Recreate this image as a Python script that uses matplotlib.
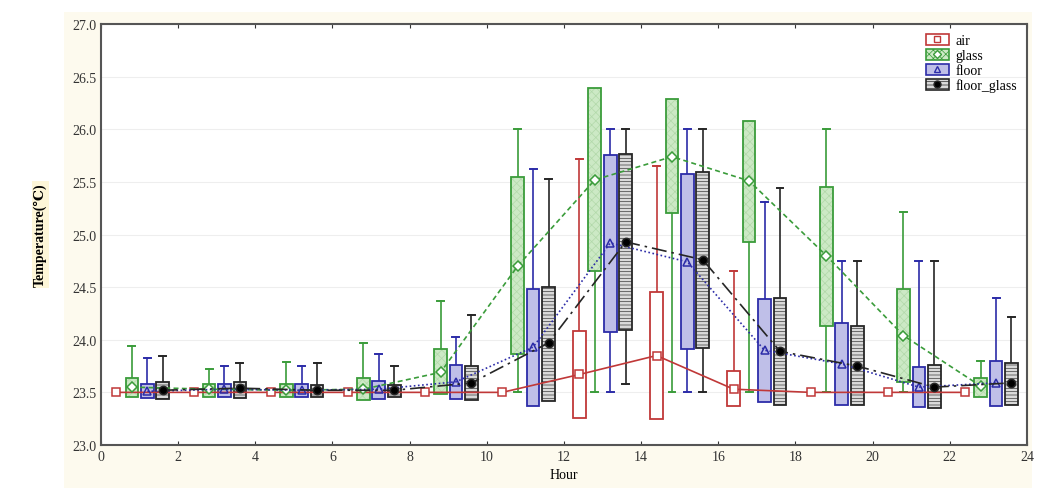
import matplotlib
matplotlib.use('Agg')
import matplotlib.pyplot as plt
from matplotlib.patches import Rectangle
from matplotlib.lines import Line2D

plt.rcParams['font.family'] = ['Liberation Serif', 'DejaVu Serif']
plt.rcParams['hatch.linewidth'] = 0.5

# group start hours, each group holds 4 boxes
groups = [0, 2, 4, 6, 8, 10, 12, 14, 16, 18, 20, 22]
series = ['air', 'glass', 'floor', 'floor_glass']
offsets = [0.4, 0.8, 1.2, 1.6]

# whisker low, box low, box high, whisker high, mean
air_wlo = [23.5, 23.5, 23.5, 23.5, 23.5, 23.5, 23.26, 23.25, 23.37, 23.5, 23.5, 23.5]
air_blo = [23.5, 23.5, 23.5, 23.5, 23.5, 23.5, 23.26, 23.25, 23.37, 23.5, 23.5, 23.5]
air_bhi = [23.5, 23.5, 23.5, 23.5, 23.5, 23.5, 24.08, 24.45, 23.70, 23.5, 23.5, 23.5]
air_whi = [23.5, 23.5, 23.5, 23.5, 23.5, 23.5, 25.72, 25.65, 24.65, 23.5, 23.5, 23.5]
air_mean = [23.5, 23.5, 23.5, 23.5, 23.5, 23.5, 23.67, 23.85, 23.53, 23.5, 23.5, 23.5]

glass_wlo = [23.46, 23.46, 23.46, 23.43, 23.48, 23.5, 23.5, 23.5, 23.5, 23.5, 23.5, 23.46]
glass_blo = [23.46, 23.46, 23.46, 23.43, 23.48, 23.86, 24.65, 25.20, 24.93, 24.13, 23.60, 23.46]
glass_bhi = [23.64, 23.58, 23.58, 23.64, 23.91, 25.55, 26.39, 26.29, 26.08, 25.45, 24.48, 23.64]
glass_whi = [23.94, 23.72, 23.79, 23.97, 24.37, 26.0, 26.39, 26.29, 26.08, 26.0, 25.21, 23.80]
glass_mean = [23.55, 23.53, 23.52, 23.53, 23.69, 24.70, 25.52, 25.74, 25.51, 24.80, 24.04, 23.56]

floor_wlo = [23.45, 23.46, 23.46, 23.44, 23.44, 23.37, 23.5, 23.5, 23.41, 23.38, 23.36, 23.37]
floor_blo = [23.45, 23.46, 23.46, 23.44, 23.44, 23.37, 24.07, 23.91, 23.41, 23.38, 23.36, 23.37]
floor_bhi = [23.58, 23.58, 23.58, 23.61, 23.76, 24.48, 25.76, 25.58, 24.39, 24.16, 23.74, 23.80]
floor_whi = [23.83, 23.75, 23.75, 23.86, 24.03, 25.62, 26.0, 26.0, 25.31, 24.75, 24.75, 24.40]
floor_mean = [23.51, 23.53, 23.52, 23.53, 23.60, 23.93, 24.92, 24.74, 23.90, 23.77, 23.55, 23.59]

fg_wlo = [23.44, 23.45, 23.46, 23.46, 23.43, 23.42, 23.58, 23.5, 23.38, 23.38, 23.35, 23.38]
fg_blo = [23.44, 23.45, 23.46, 23.46, 23.43, 23.42, 24.09, 23.92, 23.38, 23.38, 23.35, 23.38]
fg_bhi = [23.60, 23.60, 23.57, 23.57, 23.75, 24.50, 25.77, 25.59, 24.40, 24.13, 23.76, 23.78]
fg_whi = [23.85, 23.78, 23.78, 23.75, 24.24, 25.53, 26.0, 26.0, 25.44, 24.75, 24.75, 24.22]
fg_mean = [23.52, 23.54, 23.52, 23.52, 23.59, 23.97, 24.93, 24.76, 23.89, 23.75, 23.55, 23.59]

data = {
    'air': (air_wlo, air_blo, air_bhi, air_whi, air_mean),
    'glass': (glass_wlo, glass_blo, glass_bhi, glass_whi, glass_mean),
    'floor': (floor_wlo, floor_blo, floor_bhi, floor_whi, floor_mean),
    'floor_glass': (fg_wlo, fg_blo, fg_bhi, fg_whi, fg_mean),
}

edge = {'air': '#c03838', 'glass': '#3a9c3a', 'floor': '#2c2ca8', 'floor_glass': '#262626'}
fill = {'air': 'white', 'glass': '#cce9c5', 'floor': '#bfbfe8', 'floor_glass': '#dadada'}
hatch = {'air': None, 'glass': 'xxxx', 'floor': None, 'floor_glass': '-----'}
hatch_col = {'air': 'white', 'glass': '#b2d9aa', 'floor': '#bfbfe8', 'floor_glass': '#3a3a3a'}
marker = {'air': 's', 'glass': 'D', 'floor': '^', 'floor_glass': 'o'}
mface = {'air': 'white', 'glass': 'white', 'floor': 'none', 'floor_glass': 'black'}
msize = {'air': 6, 'glass': 5, 'floor': 6, 'floor_glass': 6}
lstyle = {'air': '-', 'glass': (0, (3, 2)), 'floor': (0, (1, 1.5)), 'floor_glass': (0, (9, 3, 1.5, 3))}

fig = plt.figure(figsize=(10.5, 5.02), dpi=100)
fig.patches.append(Rectangle((0.061, 0.025), 0.922, 0.95, transform=fig.transFigure,
                             facecolor='#fdfaee', edgecolor='none', zorder=-10))
ax = fig.add_axes([0.0962, 0.1116, 0.8818, 0.8384])

bw = 0.33
cap = 0.18
for name, off in zip(series, offsets):
    wlo, blo, bhi, whi, mean = data[name]
    xs = [g + off for g in groups]
    for x, a, b, c, d in zip(xs, wlo, blo, bhi, whi):
        if d > c:
            ax.plot([x, x], [c, d], color=edge[name], lw=1.2, zorder=2)
            ax.plot([x - cap / 2, x + cap / 2], [d, d], color=edge[name], lw=1.4, zorder=2)
        if a < b:
            ax.plot([x, x], [a, b], color=edge[name], lw=1.2, zorder=2)
            ax.plot([x - cap / 2, x + cap / 2], [a, a], color=edge[name], lw=1.4, zorder=2)
        if c - b > 0.01:
            ax.add_patch(Rectangle((x - bw / 2, b), bw, c - b, facecolor=fill[name],
                                   edgecolor=hatch_col[name], hatch=hatch[name], lw=0, zorder=3))
            ax.add_patch(Rectangle((x - bw / 2, b), bw, c - b, facecolor='none',
                                   edgecolor=edge[name], lw=1.3, zorder=3.5))
    ax.plot(xs, mean, color=edge[name], ls=lstyle[name], lw=1.2, zorder=4,
            marker=marker[name], ms=msize[name], mfc=mface[name], mec=edge[name], mew=1.1)

ax.set_xlim(0, 24)
ax.set_ylim(23.0, 27.0)
ax.set_xticks(range(0, 25, 2))
ax.set_yticks([23.0, 23.5, 24.0, 24.5, 25.0, 25.5, 26.0, 26.5, 27.0])
ax.set_yticklabels(['%.1f' % v for v in ax.get_yticks()])
ax.yaxis.grid(True, color='#eeeeee', lw=0.8)
ax.set_axisbelow(True)
ax.tick_params(direction='in', length=3, labelsize=10, top=True, colors='#333333')
ax.tick_params(axis='y', left=False)
for s in ax.spines.values():
    s.set_color('#555555')
    s.set_linewidth(1.5)

ax.set_xlabel('Hour', fontsize=10)
ax.set_ylabel('Temperature(℃)', fontsize=10, fontweight='bold',
              bbox=dict(facecolor='#fdf6d8', edgecolor='none', pad=1))
ax.yaxis.set_label_coords(-0.058, 0.5)

handles = []
for name in series:
    p = Rectangle((0, 0), 1, 1, facecolor=fill[name], edgecolor=edge[name],
                  hatch=hatch[name], lw=1.2)
    m = Line2D([], [], ls='none', marker=marker[name], ms=msize[name] - 1,
               mfc=mface[name], mec=edge[name], mew=1.0)
    handles.append((p, m))
leg = ax.legend(handles, series, loc='upper right', bbox_to_anchor=(1.0, 1.0),
                frameon=False, fontsize=10, handlelength=1.6, handleheight=0.9,
                labelspacing=0.1, handletextpad=0.5, borderaxespad=0.3)

fig.savefig('out.png', dpi=100)
